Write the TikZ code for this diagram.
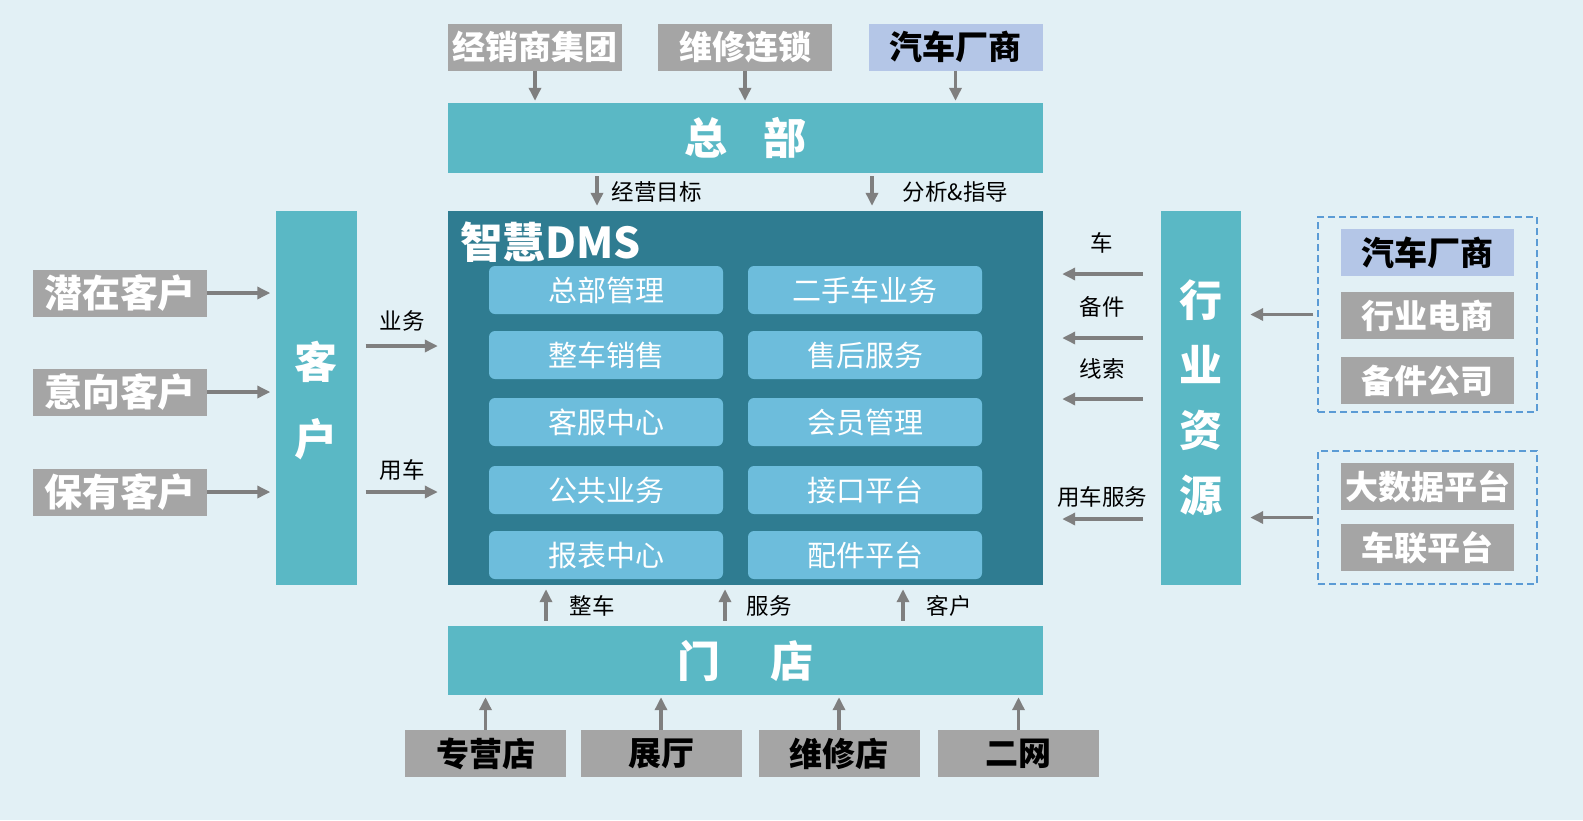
\documentclass[tikz,border=0pt]{standalone}
\usepackage{fontspec}
\setmainfont{Noto Sans CJK SC}
\usetikzlibrary{arrows.meta}
\definecolor{bgblue}{HTML}{E2F0F5}
\definecolor{barteal}{HTML}{5AB8C5}
\definecolor{dmsblue}{HTML}{2F7C91}
\definecolor{modblue}{HTML}{6DBDDC}
\definecolor{boxgray}{HTML}{A5A5A5}
\definecolor{oemblue}{HTML}{B4C6E7}
\definecolor{arrgray}{HTML}{7F7F7F}
\definecolor{dashblue}{HTML}{5B9BD5}
\newcommand{\fs}[1]{\fontsize{#1}{#1}\selectfont}
\tikzset{
  gbox/.style={fill=boxgray,text=white,font=\fs{33}\bfseries,inner sep=0pt,minimum width=174pt,minimum height=47pt},
  bar/.style={fill=barteal,text=white,font=\fs{43}\bfseries,inner sep=0pt,align=center},
  module/.style={fill=modblue,text=white,font=\fs{29},rounded corners=6pt,inner sep=0pt,minimum width=234pt,minimum height=48pt},
  grp/.style={draw=dashblue,line width=1.5pt,dash pattern=on 7pt off 4pt,inner sep=0pt},
  arr/.style={draw=arrgray,line width=3.5pt,-{Triangle[length=13pt,width=12pt]}},
  lbl/.style={font=\fs{22.5},inner sep=0pt}
}
\begin{document}
\begin{tikzpicture}[x=1pt,y=-1pt]
\useasboundingbox[fill=bgblue] (0,0) rectangle (1583,820);
% head office
\node[gbox] (jxs) at (535,47) {经销商集团};
\node[gbox] (wxls) at (745,47) {维修连锁};
\node[gbox,fill=oemblue,text=black] (oem) at (955.5,47) {汽车厂商};
\node[bar,minimum width=595pt,minimum height=70pt] (hq) at (745.5,138) {总\hspace{0.85em}部};
\foreach \n in {jxs,wxls,oem}
  \path[arr,shorten >=2pt] (\n.south) -- (\n.south |- hq.north);
% dms
\node[fill=dmsblue,inner sep=0pt,minimum width=595pt,minimum height=374pt] (dms) at (745.5,398) {};
\node[anchor=west,text=white,font=\fs{42.5}\bfseries,inner sep=0pt] (dmst) at (460,242) {智慧DMS};
\foreach \y/\l/\r [count=\i] in {290/总部管理/二手车业务,355/整车销售/售后服务,422/客服中心/会员管理,490/公共业务/接口平台,555/报表中心/配件平台}{
  \node[module] (ml\i) at (606,\y) {\l};
  \node[module] (mr\i) at (865,\y) {\r};
}
\path[arr,shorten <=3pt,shorten >=5pt] (hq.south -| 597,0) -- (dms.north -| 597,0) node[lbl,midway,right=13pt] {经营目标};
\path[arr,shorten <=3pt,shorten >=5pt] (hq.south -| 872,0) -- (dms.north -| 872,0) node[lbl,midway,right=29pt] {分析\&指导};
% stores
\node[bar,minimum width=595pt,minimum height=69pt] (store) at (745.5,660.5) {门\hspace{1.15em}店};
\path[arr,shorten <=5pt,shorten >=4pt] (store.north -| 546,0) -- (dms.south -| 546,0) node[lbl,midway,right=22pt] {整车};
\path[arr,shorten <=5pt,shorten >=4pt] (store.north -| 725,0) -- (dms.south -| 725,0) node[lbl,midway,right=20pt] {服务};
\path[arr,shorten <=5pt,shorten >=4pt] (store.north -| 903,0) -- (dms.south -| 903,0) node[lbl,midway,right=22pt] {客户};
\foreach \n/\x/\t in {zyd/485.5/专营店,zt/661/展厅,wxd/839/维修店,ew/1018.5/二网}{
  \node[gbox,text=black,minimum width=161pt] (\n) at (\x,753.5) {\t};
  \path[arr,shorten >=2pt] (\n.north) -- (\n.north |- store.south);
}
% customers
\node[bar,minimum width=81pt,minimum height=374pt,text depth=0pt] (kh) at (316,398) {\fs{43}客\\[34pt]户};
\foreach \n/\y/\t in {qz/293/潜在客户,yx/392/意向客户,by/492/保有客户}{
  \node[gbox,font=\fs{38}\bfseries] (\n) at (120,\y) {\t};
  \path[arr,shorten >=5pt] (\n.east) -- (\n.east -| kh.west);
}
\path[arr,shorten <=9pt,shorten >=10pt] (kh.east |- 0,346) -- (dms.west |- 0,346) node[lbl,midway,above=13pt] {业务};
\path[arr,shorten <=9pt,shorten >=10pt] (kh.east |- 0,492) -- (dms.west |- 0,492) node[lbl,midway,above=10pt] {用车};
% industry resources
\node[bar,minimum width=80pt,minimum height=374pt] (hy) at (1201,398) {\fs{43}行\\[22pt]业\\[22pt]资\\[22pt]源};
\path[arr,shorten <=18pt,shorten >=19pt] (hy.west |- 0,274) -- (dms.east |- 0,274) node[lbl,midway,above=19pt] {车};
\path[arr,shorten <=18pt,shorten >=19pt] (hy.west |- 0,338) -- (dms.east |- 0,338) node[lbl,midway,above=19pt] {备件};
\path[arr,shorten <=18pt,shorten >=19pt] (hy.west |- 0,399) -- (dms.east |- 0,399) node[lbl,midway,above=18pt] {线索};
\path[arr,shorten <=18pt,shorten >=19pt] (hy.west |- 0,519) -- (dms.east |- 0,519) node[lbl,midway,above=10pt] {用车服务};
\node[grp,minimum width=219pt,minimum height=195pt] (grp1) at (1427.5,314.5) {};
\node[gbox,fill=oemblue,text=black,minimum width=173pt] (oem2) at (1427.5,252.5) {汽车厂商};
\node[gbox,minimum width=173pt] (hyds) at (1427.5,315.5) {行业电商};
\node[gbox,minimum width=173pt] (bjgs) at (1427.5,380.5) {备件公司};
\node[grp,minimum width=219pt,minimum height=133pt] (grp2) at (1427.5,517.5) {};
\node[gbox,minimum width=173pt] (dsj) at (1427.5,486.5) {大数据平台};
\node[gbox,minimum width=173pt] (clw) at (1427.5,547.5) {车联平台};
\path[arr,shorten <=4pt,shorten >=9pt] (grp1.west) -- (grp1.west -| hy.east);
\path[arr,shorten <=4pt,shorten >=9pt] (grp2.west) -- (grp2.west -| hy.east);
\end{tikzpicture}
\end{document}
